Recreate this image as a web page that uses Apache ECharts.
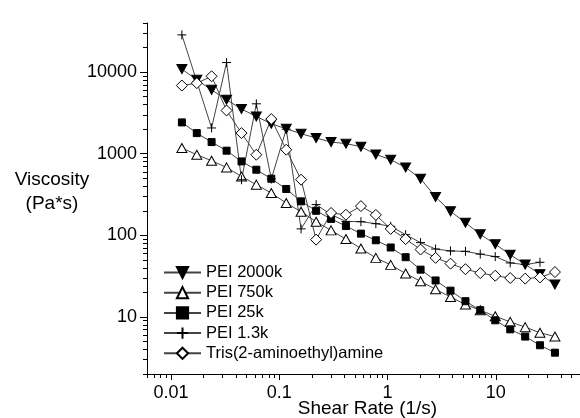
<!DOCTYPE html>
<html><head><meta charset="utf-8">
<script src="https://cdn.jsdelivr.net/npm/echarts@6/dist/echarts.min.js"></script>
<style>html,body{margin:0;padding:0;background:#fff}#c{width:580px;height:418px}</style>
</head><body><div id="c"></div>
<script>
// Shear rate (1/s), shared by all series
const shearRate = [0.0126, 0.0173, 0.0237, 0.0326, 0.0448, 0.0614, 0.0844, 0.116, 0.159, 0.219, 0.301, 0.413, 0.568, 0.780, 1.07, 1.47, 2.02, 2.78, 3.82, 5.25, 7.19, 9.89, 13.6, 18.7, 25.6, 35.2];
// Viscosity (Pa*s)
const pei2000k = [10900, 8050, 6070, 4580, 3530, 2860, 2330, 2020, 1760, 1560, 1390, 1330, 1220, 980, 845, 680, 494, 295, 197, 143, 103, 78, 58, 44, 33.5, 25];
const pei750k  = [1175, 973, 821, 680, 527, 418, 330, 249, 195, 147, 115, 90, 69, 53, 43.5, 34, 27.4, 21.8, 17.6, 14.2, 12.1, 10.2, 8.7, 7.5, 6.4, 5.75];
const pei25k   = [2420, 1790, 1390, 1090, 805, 637, 494, 370, 261, 200, 159, 130, 105, 87, 71, 54, 38, 28, 21, 15.6, 12.1, 9.1, 7.05, 5.75, 4.5, 3.65];
const pei13k   = [28600, 7700, 2070, 13100, 480, 4090, 490, 2000, 120, 238, 180, 148, 147, 139, 129, 102, 81.5, 68, 64.4, 63.7, 58.9, 54.9, 45.9, 43.8, 46.8];
const tris     = [6850, 7330, 8900, 3390, 1790, 973, 2660, 1120, 481, 88.6, 188, 179, 228, 178, 120, 90, 67, 53, 45, 38.5, 34.5, 32, 30, 29.5, 30.5, 35.5];
const seriesNames = ['PEI 2000k', 'PEI 750k', 'PEI 25k', 'PEI 1.3k', 'Tris(2-aminoethyl)amine'];
// Axis ticks / labels
const xMajorTicks = [0.01, 0.1, 1, 10];
const xMinorTicks = [0.006, 0.007, 0.008, 0.009, 0.02, 0.03, 0.04, 0.05, 0.06, 0.07, 0.08, 0.09, 0.2, 0.3, 0.4, 0.5, 0.6, 0.7, 0.8, 0.9, 2, 3, 4, 5, 6, 7, 8, 9, 20, 30, 40, 50, 60];
const yMajorTicks = [10, 100, 1000, 10000];
const yMinorTicks = [2, 3, 4, 5, 6, 7, 8, 9, 20, 30, 40, 50, 60, 70, 80, 90, 200, 300, 400, 500, 600, 700, 800, 900, 2000, 3000, 4000, 5000, 6000, 7000, 8000, 9000, 20000, 30000, 40000];

const FONT = '"Liberation Sans", Arial, sans-serif';
function pairs(ys) { return ys.map((v, i) => [shearRate[i], v]); }
const fmt = v => String(+(+v).toPrecision(6));
const lineStyle = { color: '#444', width: 1 };
const filled = { color: '#000', borderColor: '#000', borderWidth: 1 };
const open = { color: '#fff', borderColor: '#000', borderWidth: 1 };

const chart = echarts.init(document.getElementById('c'), null, { renderer: 'canvas' });
const xBase = { type: 'log', logBase: 10, min: 0.006, max: 60, gridIndex: 0, position: 'bottom', splitLine: { show: false } };
const yBase = { type: 'log', logBase: 10, min: 2, max: 40000, gridIndex: 0, position: 'left', splitLine: { show: false } };
chart.setOption({
  animation: false,
  backgroundColor: '#fff',
  textStyle: { fontFamily: FONT },
  grid: { left: 147, right: 0, top: 23, bottom: 44, containLabel: false, outerBoundsMode: 'none' },
  xAxis: [
    Object.assign({}, xBase, {
      axisLine: { show: true, lineStyle: { color: '#000', width: 1 } },
      axisTick: { show: true, length: 6, customValues: xMajorTicks, lineStyle: { color: '#000', width: 1 } },
      axisLabel: { show: true, customValues: xMajorTicks, formatter: fmt, fontSize: 18, fontFamily: FONT, color: '#000', margin: 10 },
      minorTick: { show: false }
    }),
    Object.assign({}, xBase, {
      axisLine: { show: false },
      axisTick: { show: true, length: 4, customValues: xMinorTicks, lineStyle: { color: '#000', width: 1 } },
      axisLabel: { show: false },
      minorTick: { show: false }
    })
  ],
  yAxis: [
    Object.assign({}, yBase, {
      axisLine: { show: true, lineStyle: { color: '#000', width: 1 } },
      axisTick: { show: true, length: 7, customValues: yMajorTicks, lineStyle: { color: '#000', width: 1 } },
      axisLabel: { show: true, customValues: yMajorTicks, formatter: fmt, fontSize: 18, fontFamily: FONT, color: '#000', margin: 10 },
      minorTick: { show: false }
    }),
    Object.assign({}, yBase, {
      axisLine: { show: false },
      axisTick: { show: true, length: 4, customValues: yMinorTicks, lineStyle: { color: '#000', width: 1 } },
      axisLabel: { show: false },
      minorTick: { show: false }
    })
  ],
  legend: {
    orient: 'vertical', left: 158, top: 259, padding: 5, itemWidth: 37, itemHeight: 14, itemGap: 3.2,
    textStyle: { fontSize: 16.5, fontFamily: FONT, color: '#000' },
    data: seriesNames
  },
  graphic: [
    { type: 'text', silent: true, style: { x: 52, y: 192, text: 'Viscosity\n(Pa*s)', font: '19px ' + FONT, fill: '#000', align: 'center', verticalAlign: 'middle', lineHeight: 24 } },
    { type: 'text', silent: true, style: { x: 367.5, y: 409, text: 'Shear Rate (1/s)', font: '19px ' + FONT, fill: '#000', align: 'center', verticalAlign: 'middle' } }
  ],
  series: [
    { name: seriesNames[0], type: 'line', data: pairs(pei2000k), symbol: 'triangle', symbolRotate: 180, symbolSize: [10, 9], lineStyle, itemStyle: filled },
    { name: seriesNames[1], type: 'line', data: pairs(pei750k), symbol: 'triangle', symbolSize: [10, 9], lineStyle, itemStyle: open },
    { name: seriesNames[2], type: 'line', data: pairs(pei25k), symbol: 'rect', symbolSize: 7, lineStyle, itemStyle: filled },
    { name: seriesNames[3], type: 'line', data: pairs(pei13k), symbol: 'path://M0,5L10,5M5,0L5,10', symbolSize: 9, lineStyle, itemStyle: { color: 'rgba(0,0,0,0)', borderColor: '#000', borderWidth: 1 } },
    { name: seriesNames[4], type: 'line', data: pairs(tris), symbol: 'diamond', symbolSize: 11, lineStyle, itemStyle: open }
  ]
});
</script></body></html>
